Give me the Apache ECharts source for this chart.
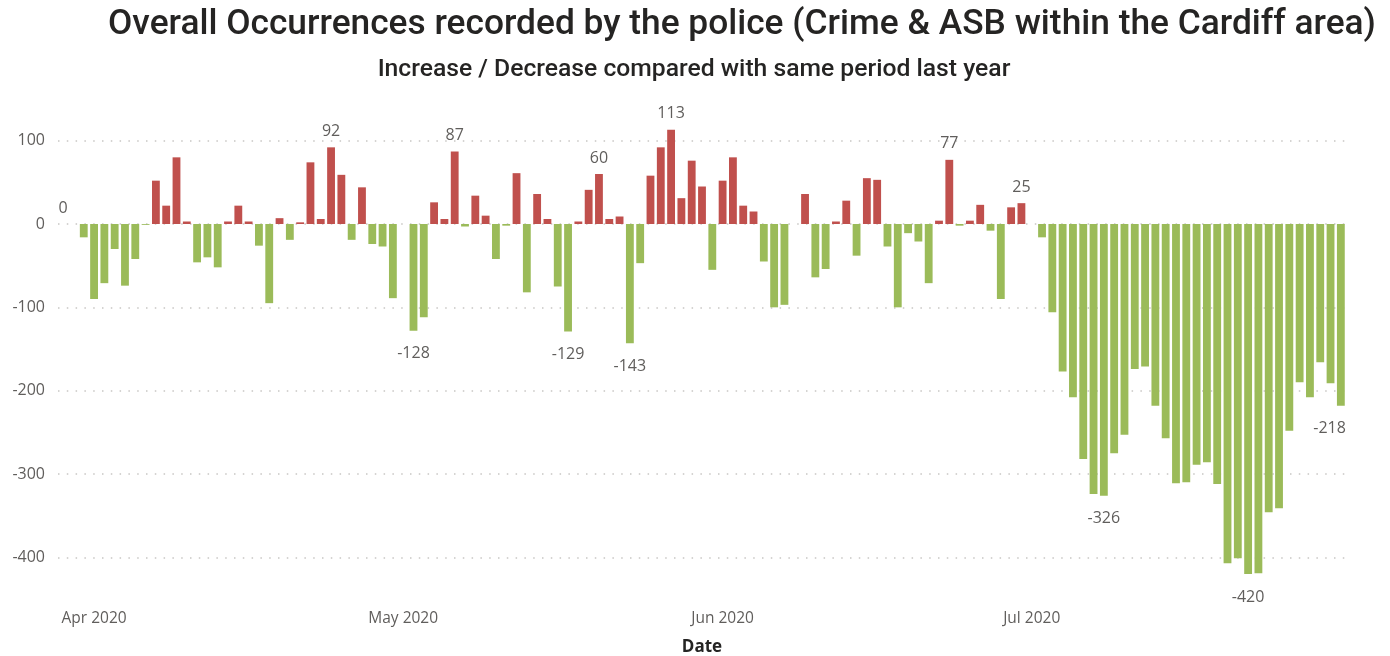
<!DOCTYPE html>
<html><head><meta charset="utf-8">
<script src="https://cdn.jsdelivr.net/npm/echarts@6/dist/echarts.min.js"></script>
<style>html,body{margin:0;padding:0;background:#fff}#c{width:1390px;height:656px}</style>
</head><body><div id="c"></div>
<script>
// ---- data (daily change vs same period last year) ----
const startDate = '2020-03-29';
const marchValues = [0, 0, -16];
const aprilValues = [-90, -71, -30, -74, -42, -1, 52, 22, 80, 3, -46, -40, -52, 3, 22, 3, -26, -95, 7, -19, 2, 74, 6, 92, 59, -19, 44, -24, -27, -89];
const mayValues = [0, -128, -112, 26, 6, 87, -3, 34, 10, -42, -2, 61, -82, 36, 6, -75, -129, 3, 41, 60, 6, 9, -143, -47, 58, 92, 113, 31, 76, 45, -55];
const juneValues = [52, 80, 22, 15, -45, -100, -97, 0, 36, -64, -54, 3, 28, -38, 55, 53, -27, -100, -11, -21, -71, 4, 77, -2, 4, 23, -8, -90, 20, 25];
const julyValues = [0, -16, -106, -177, -208, -282, -324, -326, -275, -253, -174, -171, -218, -257, -311, -310, -289, -286, -312, -407, -401, -420, -419, -346, -341, -248, -190, -208, -166, -191, -218];
const labeledDates = ['2020-03-29', '2020-04-24', '2020-05-02', '2020-05-06', '2020-05-17', '2020-05-20', '2020-05-23', '2020-05-27', '2020-06-23', '2020-06-30', '2020-07-08', '2020-07-22', '2020-07-31'];
const monthTickDates = ['2020-04-01', '2020-05-01', '2020-06-01', '2020-07-01'];
const monthTickLabels = ['Apr 2020', 'May 2020', 'Jun 2020', 'Jul 2020'];
const yTicks = [-400, -300, -200, -100, 0, 100];

// ---- build ----
const values = [].concat(marchValues, aprilValues, mayValues, juneValues, julyValues);
const p = startDate.split('-').map(Number);
const dates = values.map((v, i) => new Date(Date.UTC(p[0], p[1] - 1, p[2] + i)).toISOString().slice(0, 10));
const tickMap = {};
monthTickDates.forEach((d, i) => tickMap[d] = monthTickLabels[i]);
const RED = '#C0504D', GREEN = '#9BBB59';
const lastIdx = values.length - 1;
const data = values.map((v, i) => {
  const show = labeledDates.indexOf(dates[i]) >= 0;
  const neg = v < 0;
  const lab = { show: show, position: neg ? 'bottom' : 'top', distance: neg ? 14 : 7 };
  if (i === lastIdx) { lab.align = 'right'; lab.offset = [5, 0]; }
  return { value: v, itemStyle: { color: neg ? GREEN : RED }, label: lab };
});

const chart = echarts.init(document.getElementById('c'), null, { renderer: 'canvas' });
chart.setOption({
  animation: false,
  backgroundColor: '#fff',
  title: [
    { text: 'Overall Occurrences recorded by the police (Crime & ASB within the Cardiff area)',
      left: 737, top: 3, textAlign: 'center',
      textStyle: { fontFamily: 'Roboto', fontWeight: 500, fontSize: 35.3, color: '#252423' } },
    { text: 'Increase / Decrease compared with same period last year',
      left: 689, top: 52, textAlign: 'center',
      textStyle: { fontFamily: 'Roboto', fontWeight: 500, fontSize: 24.7, color: '#252423' } }
  ],
  grid: { left: 58, right: 44, top: 99, bottom: 57, containLabel: false, outerBoundsMode: 'none' },
  xAxis: {
    type: 'category', data: dates, boundaryGap: true,
    axisLine: { show: false }, axisTick: { show: false },
    axisLabel: {
      interval: (idx, val) => tickMap[val] !== undefined,
      formatter: (val) => tickMap[val] || '',
      fontFamily: 'Open Sans', fontSize: 15.5, color: '#605E5C', margin: 12
    },
    name: 'Date', nameLocation: 'middle', nameGap: 40,
    nameTextStyle: { fontFamily: 'Open Sans', fontWeight: 'bold', fontSize: 17, color: '#252423' }
  },
  yAxis: {
    type: 'value', min: -450, max: 150,
    axisLine: { show: false },
    axisTick: { show: false, customValues: yTicks },
    axisLabel: { customValues: yTicks, fontFamily: 'Open Sans', fontSize: 16, color: '#605E5C', margin: 13 },
    splitLine: { show: true, lineStyle: { color: '#C8C6C4', width: 1.5, type: [1.5, 7.3] } }
  },
  series: [{
    type: 'bar', data: data, barCategoryGap: '24%',
    label: { fontFamily: 'Open Sans', fontSize: 16, color: '#605E5C', lineHeight: 18 }
  }]
});
</script></body></html>
